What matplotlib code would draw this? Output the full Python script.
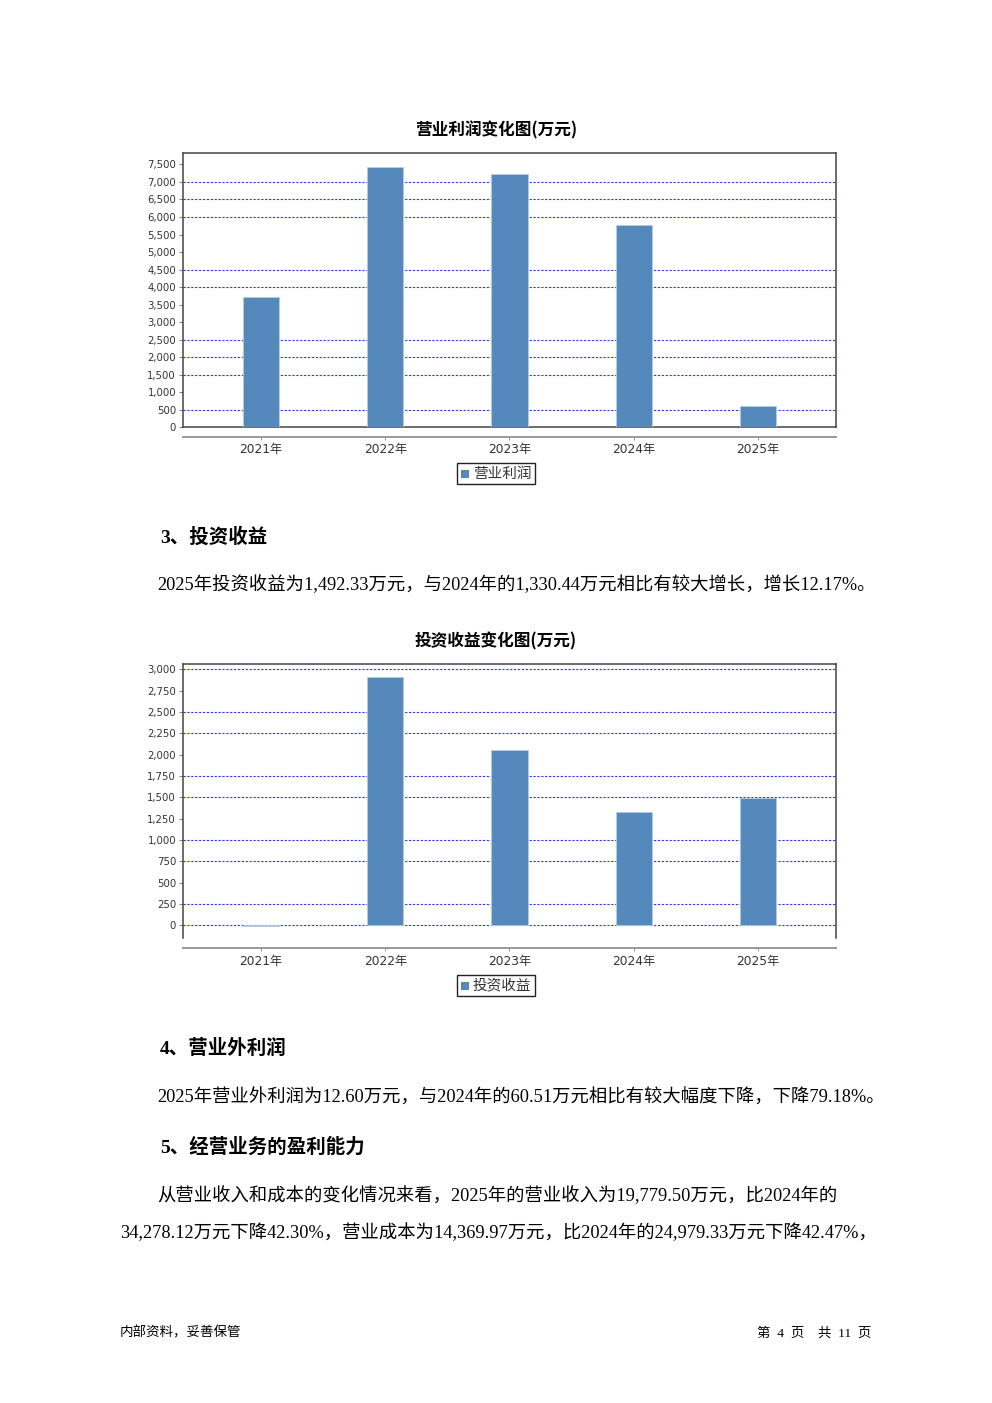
import matplotlib.pyplot as plt
from matplotlib.patches import Rectangle
from matplotlib.ticker import FuncFormatter

plt.rcParams['font.family'] = ['Liberation Serif', 'Noto Sans CJK SC', 'DejaVu Sans']

W, H = 992, 1403

# ============================================================
# Данные
# ============================================================
years = ['2021年', '2022年', '2023年', '2024年', '2025年']
op_profit = [3720, 7440, 7215, 5765, 607]           # 营业利润
invest_income = [-6, 2909, 2053, 1330.44, 1492.33]  # 投资收益

op_ticks = list(range(0, 7501, 500))
op_grid = [500, 1500, 2000, 2500, 4000, 4500, 6000, 6500, 7000]
inv_ticks = list(range(0, 3001, 250))
inv_grid = [0, 250, 750, 1000, 1500, 1750, 2250, 2500, 3000]

BAR_COLOR = '#5588bb'
CJK = ['Noto Sans CJK SC', 'DejaVu Sans']


def px_axes(fig, x0, y0, x1, y1):
    # координаты в пикселях страницы (y сверху вниз)
    return fig.add_axes([x0 / W, 1 - y1 / H, (x1 - x0) / W, (y1 - y0) / H])


def bar_chart(fig, box, ylim, values, ticks, grid, title, legend_label,
              title_y, axis_y, legend_y, bottom_spine=True):
    x0, y0, x1, y1 = box
    ax = px_axes(fig, x0, y0, x1, y1)
    xs = range(len(years))
    ax.bar(xs, values, width=0.29, color=BAR_COLOR,
           edgecolor='#b5cde4', linewidth=0.6, zorder=3)
    ax.set_xlim(-0.63, len(years) - 1 + 0.63)
    ax.set_ylim(*ylim)
    ax.set_yticks(ticks)
    ax.yaxis.set_major_formatter(FuncFormatter(lambda v, p: f'{int(v):,}'))
    ax.tick_params(axis='y', labelsize=7.3, colors='#666666', length=3,
                   width=0.6, pad=2, labelcolor='#333333')
    for lab in ax.get_yticklabels():
        lab.set_family('DejaVu Sans')
    ax.set_xticks([])
    for g in grid:
        ax.axhline(g, color='#3333ee', lw=0.8, ls=(0, (2, 1.5)), zorder=1)
    for name, sp in ax.spines.items():
        sp.set_color('#444444')
        sp.set_linewidth(1.1)
    if not bottom_spine:
        ax.spines['bottom'].set_visible(False)

    # отдельная ось категорий под графиком
    loc = -(axis_y - y1) / (y1 - y0)
    sec = ax.secondary_xaxis(loc)
    sec.set_xticks(list(xs))
    sec.set_xticklabels(years, family=['DejaVu Sans', 'Noto Sans CJK SC'],
                        fontsize=8.8, color='#333333')
    sec.tick_params(length=2, width=0.6, colors='#888888', pad=3,
                    labelcolor='#333333')
    sec.spines['bottom'].set_color('#999999')
    sec.spines['bottom'].set_linewidth(1.4)

    fig.text(496 / W, 1 - title_y / H, title, ha='center', va='center',
             fontsize=12, fontweight='bold', family=CJK)

    # легенда
    lx0, lx1 = 457, 535
    fig.patches.append(Rectangle((lx0 / W, 1 - (legend_y + 10.5) / H),
                                 (lx1 - lx0) / W, 21 / H,
                                 transform=fig.transFigure, fill=False,
                                 edgecolor='#222222', linewidth=1.0))
    fig.patches.append(Rectangle((461 / W, 1 - (legend_y + 4) / H),
                                 8 / W, 8 / H, transform=fig.transFigure,
                                 facecolor=BAR_COLOR, edgecolor='none'))
    fig.text(473 / W, 1 - legend_y / H, legend_label, ha='left',
             va='center', fontsize=10.5, family=CJK, color='#333333')
    return ax


fig = plt.figure(figsize=(W / 100, H / 100), dpi=100)
fig.patch.set_facecolor('white')

# ============================================================
# График 1: 营业利润
# ============================================================
bar_chart(fig, (183, 152.5, 836, 427.3), (0, 7840), op_profit, op_ticks,
          op_grid, '营业利润变化图(万元)', '营业利润',
          title_y=130, axis_y=436.5, legend_y=473.5)

# ============================================================
# График 2: 投资收益
# ============================================================
bar_chart(fig, (183, 663.7, 836, 938.3), (-153, 3065), invest_income,
          inv_ticks, inv_grid, '投资收益变化图(万元)', '投资收益',
          title_y=641, axis_y=948.3, legend_y=985.5, bottom_spine=False)

# ============================================================
# Текст страницы
# ============================================================
def head(y, s):
    fig.text(160 / W, 1 - y / H, s, ha='left', va='center',
             fontsize=14, fontweight='bold')


def body(x, y, s):
    fig.text(x / W, 1 - y / H, s, ha='left', va='center', fontsize=13.2)


head(537, '3、投资收益')
body(157, 585, '2025年投资收益为1,492.33万元，与2024年的1,330.44万元相比有较大增长，增长12.17%。')
head(1048, '4、营业外利润')
body(157, 1098, '2025年营业外利润为12.60万元，与2024年的60.51万元相比有较大幅度下降，下降79.18%。')
head(1147, '5、经营业务的盈利能力')
body(157, 1196, '从营业收入和成本的变化情况来看，2025年的营业收入为19,779.50万元，比2024年的')
body(120, 1233, '34,278.12万元下降42.30%，营业成本为14,369.97万元，比2024年的24,979.33万元下降42.47%，')

fig.text(120 / W, 1 - 1333 / H, '内部资料，妥善保管', ha='left', va='center',
         fontsize=9.7)
fig.text(871 / W, 1 - 1333 / H, '第  4  页    共  11  页', ha='right',
         va='center', fontsize=9.7)

fig.savefig('out.png', dpi=100)
